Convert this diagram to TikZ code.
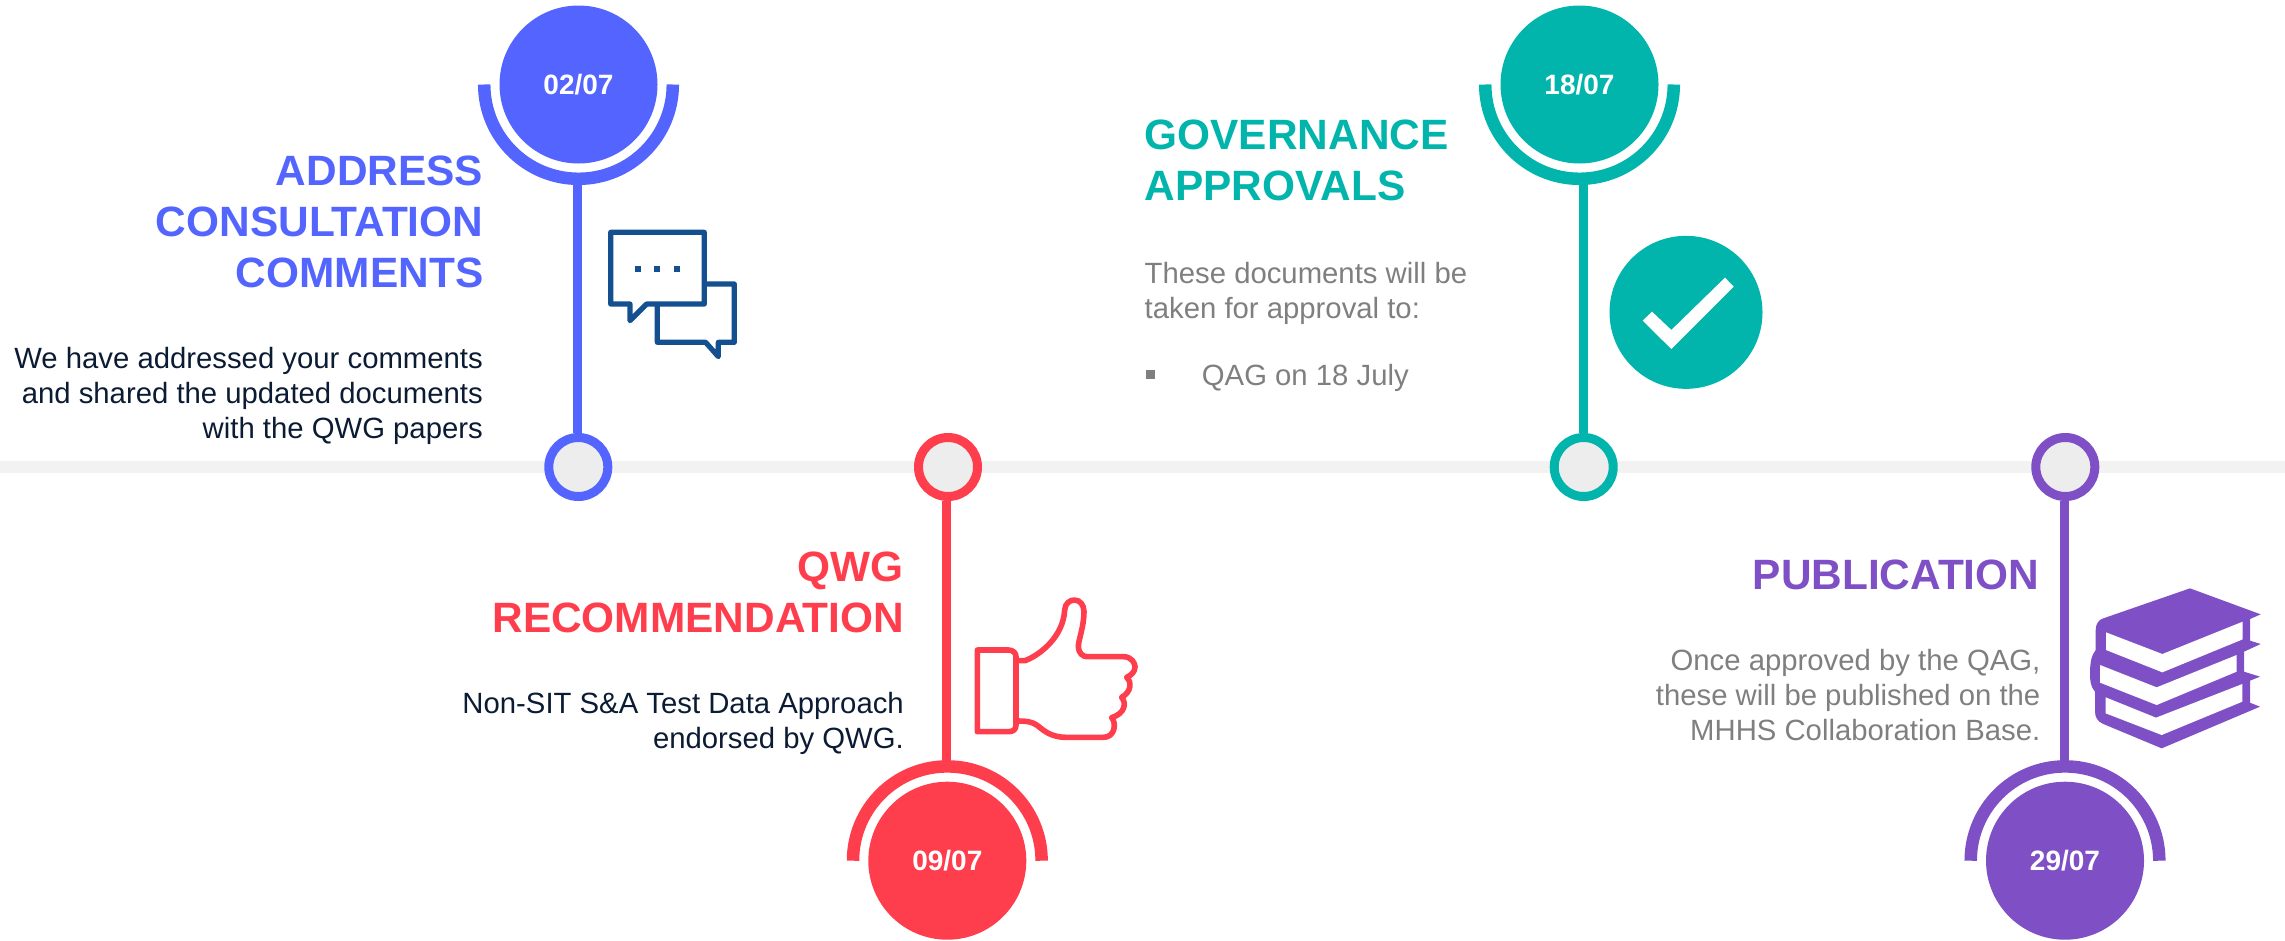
\documentclass[tikz,border=0pt]{standalone}
\usepackage{fontspec}
\setmainfont{Liberation Sans}
\definecolor{cblue}{HTML}{5465FF}
\definecolor{cred}{HTML}{FF3E4D}
\definecolor{cteal}{HTML}{02B5AC}
\definecolor{cpurple}{HTML}{7F4FC6}
\definecolor{cnavy}{HTML}{14508F}
\definecolor{cdark}{HTML}{0B1B33}
\definecolor{cgrey}{HTML}{7F7F7F}
\definecolor{cband}{HTML}{F2F2F2}
\definecolor{chub}{HTML}{EDEDED}
\tikzset{
  bigdot/.style={circle,fill=#1,minimum size=158pt,inner sep=0pt,text=white,
    font=\bfseries\fontsize{28}{28}\selectfont,text height=20pt,text depth=0pt},
  hub/.style={circle,draw=#1,fill=chub,line width=9pt,minimum size=59pt,inner sep=0pt},
  stem/.style={draw=#1,line width=9pt},
  cradle/.style={draw=#1,line width=12.5pt,line cap=butt},
  titletext/.style={text=#1,font=\bfseries\fontsize{42.4}{51}\selectfont,inner sep=0pt},
  bodytext/.style={text=#1,font=\fontsize{29.3}{35}\selectfont,inner sep=0pt},
  crop/.style={x=0.33333pt,y=-0.33333pt}
}
\begin{document}
\begin{tikzpicture}[x=1pt,y=-1pt]
\useasboundingbox (0,0) rectangle (2285,940);
\fill[cband] (0,461) rectangle (2285,473);

% --- big circles
\node[bigdot=cblue]   (b1) at (578.5,84.5) {02/07};
\node[bigdot=cred]    (b2) at (947.3,860.7) {09/07};
\node[bigdot=cteal]   (b3) at (1579.5,84.5) {18/07};
\node[bigdot=cpurple] (b4) at (2065,860.7) {29/07};
% --- hubs
\node[hub=cblue]   (h1) at (578.3,467) {};
\node[hub=cred]    (h2) at (948,467) {};
\node[hub=cteal]   (h3) at (1583.7,467) {};
\node[hub=cpurple] (h4) at (2065.3,467) {};
% --- cradles
\draw[cradle=cblue]   ([xshift=-94.3pt]b1.center) arc[start angle=180,end angle=360,radius=94.3pt];
\draw[cradle=cteal]   ([xshift=-94.3pt]b3.center) arc[start angle=180,end angle=360,radius=94.3pt];
\draw[cradle=cred]    ([xshift=-94.3pt]b2.center) arc[start angle=180,end angle=0,radius=94.3pt];
\draw[cradle=cpurple] ([xshift=-94.3pt]b4.center) arc[start angle=180,end angle=0,radius=94.3pt];
% --- stems
\coordinate (t1) at (577.7,180);
\coordinate (t2) at (946.3,768);
\coordinate (t3) at (1583.7,180);
\coordinate (t4) at (2064.3,768);
\draw[stem=cblue]   (t1) -- (t1 |- h1.north);
\draw[stem=cred]    (t2) -- (t2 |- h2.south);
\draw[stem=cteal]   (t3) -- (t3 |- h3.north);
\draw[stem=cpurple] (t4) -- (t4 |- h4.south);

% --- titles and text (anchor base = baseline of the last line)
\node[titletext=cblue,anchor=base east,align=right] (a1) at (483.5,287) {ADDRESS\\CONSULTATION\\COMMENTS};
\node[bodytext=cdark,anchor=base east,align=right] (a2) at (483,438) {We have addressed your comments\\and shared the updated documents\\with the QWG papers};
\node[titletext=cred,anchor=base east,align=right] (r1) at (904,632) {QWG\\RECOMMENDATION};
\node[bodytext=cdark,anchor=base east,align=right] (r2) at (904,748) {Non-SIT S\&A Test Data Approach\\endorsed by QWG.};
\node[titletext=cteal,anchor=base west,align=left] (g1) at (1144.5,200.7) {GOVERNANCE\\APPROVALS};
\node[bodytext=cgrey,anchor=base west,align=left] (g2) at (1144.5,318) {These documents will be\\taken for approval to:};
\fill[cgrey] (1146,370) rectangle (1155,379);
\node[bodytext=cgrey,anchor=base west] (g3) at (1201.7,385) {QAG on 18 July};
\node[titletext=cpurple,anchor=base east] (p1) at (2039.5,589) {PUBLICATION};
\node[bodytext=cgrey,anchor=base east,align=right] (p2) at (2040.5,740) {Once approved by the QAG,\\these will be published on the\\MHHS Collaboration Base.};

% --- chat icon
\begin{scope}[xshift=420pt,crop,draw=cnavy,line width=5.2pt,line join=round]
  \draw (853,852) -- (943,852) -- (943,1027) -- (895,1027) -- (895,1070) -- (857,1027) -- (712,1027) -- (712,912);
  \draw (572,697) -- (853,697) -- (853,912) -- (680,912) -- (630,962) -- (630,912) -- (572,912) -- cycle;
  \fill[cnavy] (645,798) rectangle (663,816);
  \fill[cnavy] (702,798) rectangle (720,816);
  \fill[cnavy] (762,798) rectangle (780,816);
\end{scope}

% --- check icon
\begin{scope}[xshift=1440pt,crop]
  \fill[cteal] (738,937) circle[radius=76.5pt];
  \fill[white] (608,962) -- (636,935) -- (694,990) -- (855,833) -- (881,860) -- (694,1047) -- cycle;
\end{scope}

% --- thumb icon
\begin{scope}[xshift=940pt,yshift=-570pt,crop,draw=cred,line width=5.6pt,line join=round]
  \draw (228,272) -- (255,272) .. controls (300,255) and (370,200) .. (374,120)
    .. controls (375,100) and (390,90) .. (403,90)
    .. controls (420,90) and (432,105) .. (432,125)
    .. controls (432,170) and (415,210) .. (415,230)
    .. controls (415,250) and (430,260) .. (440,260) -- (550,260)
    .. controls (575,260) and (585,280) .. (585,290)
    .. controls (585,305) and (575,315) .. (560,322)
    .. controls (575,335) and (575,365) .. (545,382)
    .. controls (560,400) and (555,430) .. (515,443)
    .. controls (530,460) and (525,502) .. (490,502) -- (380,502)
    .. controls (330,502) and (310,480) .. (290,465)
    .. controls (275,455) and (260,453) .. (228,453);
  \draw (112,240) -- (205,240) .. controls (220,240) and (228,250) .. (228,260) -- (228,465)
    .. controls (228,478) and (220,485) .. (205,485) -- (112,485) -- cycle;
\end{scope}

% --- books icon
\begin{scope}[xshift=2060pt,yshift=-570pt,crop]
  \fill[cpurple] (390,55) -- (602,133) -- (570,147) -- (570,212) -- (602,222) -- (552,245) -- (552,305)
    -- (600,320) -- (570,332) -- (570,398) -- (600,410) -- (305,535) -- (130,462)
    .. controls (112,455) and (105,440) .. (105,425) -- (105,365)
    .. controls (92,350) and (90,335) .. (90,310)
    .. controls (90,275) and (95,255) .. (107,240) -- (107,180)
    .. controls (107,160) and (118,148) .. (130,145) -- cycle;
  \fill[white] (138,187) -- (307,252) -- (548,155) -- (548,208) -- (307,307) -- (138,240) -- cycle;
  \fill[white] (120,285) -- (290,352) -- (530,255) -- (530,305) -- (290,405) -- (120,338) -- cycle;
  \fill[white] (137,382) -- (288,443) -- (547,342) -- (547,395) -- (305,495) -- (137,430) -- cycle;
\end{scope}
\end{tikzpicture}
\end{document}
